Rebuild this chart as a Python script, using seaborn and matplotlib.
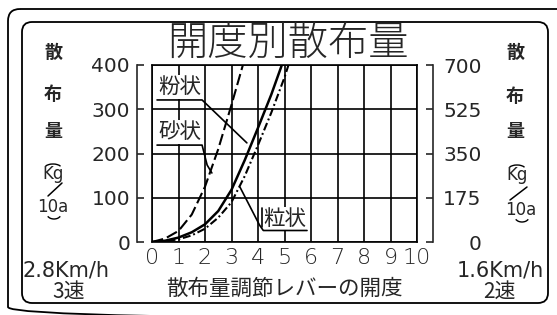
import matplotlib
matplotlib.use("Agg")
import matplotlib.pyplot as plt
from matplotlib.patches import FancyBboxPatch, Arc
import seaborn as sns

# ---------------- data ----------------
openings = [0, 1, 2, 3, 4, 5, 6, 7, 8, 9, 10]
left_ticks = [0, 100, 200, 300, 400]
right_ticks = [0, 175, 350, 525, 700]

# 粉状 (solid)
funjou_x = [0, 0.5, 1, 1.5, 2, 2.5, 3, 3.5, 4, 4.5, 4.9]
funjou_y = [0, 3, 10, 22, 40, 70, 118, 185, 258, 333, 400]
# 砂状 (dashed)
sajou_x = [0, 0.5, 1, 1.5, 2, 2.5, 3, 3.43]
sajou_y = [0, 8, 25, 62, 125, 210, 310, 400]
# 粒状 (dash-dot)
ryujou_x = [0, 0.5, 1, 1.5, 2, 2.5, 3, 3.5, 4, 4.5, 5, 5.15]
ryujou_y = [0, 2, 6, 15, 30, 55, 90, 149, 219, 292, 372, 400]

title = "開度別散布量"
xlabel = "散布量調節レバーの開度"

sns.set_style("white")
plt.rcParams['font.family'] = ['Noto Sans CJK JP', 'DejaVu Sans']
CJK = ['Noto Sans CJK JP', 'DejaVu Sans']
LAT = ['DejaVu Sans']

W, H = 557, 315
fig = plt.figure(figsize=(W / 100, H / 100), dpi=100)
fig.patch.set_facecolor('white')

# background axes in pixel coordinates for frames & side texts
bg = fig.add_axes([0, 0, 1, 1], zorder=-1)
bg.set_xlim(0, W)
bg.set_ylim(H, 0)
bg.axis('off')

bg.add_patch(FancyBboxPatch((8, 9), 580, 310, boxstyle='round,pad=0,rounding_size=12',
                            fill=False, ec='black', lw=1.3))
bg.add_patch(FancyBboxPatch((22, 22), 526, 281, boxstyle='round,pad=0,rounding_size=10',
                            fill=False, ec='black', lw=1.3))

# ---------------- main plot ----------------
ax = fig.add_axes([152 / W, 1 - 242 / H, 265 / W, 177 / H])
ax.set_facecolor('none')

lw_grid = 1.2
for s in ['top', 'bottom', 'right']:
    ax.spines[s].set_linewidth(lw_grid)
    ax.spines[s].set_color('black')
ax.spines['left'].set_position(('outward', 10.8))
ax.spines['left'].set_linewidth(lw_grid)
ax.axvline(0, color='black', lw=lw_grid, clip_on=False, zorder=1)

ax.set_xlim(0, 10)
ax.set_ylim(0, 400)
ax.set_xticks(openings)
ax.set_xticklabels([str(v) for v in openings], fontfamily=LAT, fontsize=16,
                   fontweight='light')
ax.set_yticks(left_ticks)
ax.set_yticklabels([str(v) for v in left_ticks], fontfamily=LAT, fontsize=14.5)
ax.tick_params(axis='x', length=0, pad=4)
ax.tick_params(axis='y', direction='in', length=5, width=lw_grid, pad=5)
ax.grid(True, color='black', lw=lw_grid)
ax.set_axisbelow(True)

ax2 = ax.twinx()
ax2.set_ylim(0, 700)
ax2.set_yticks(right_ticks)
ax2.set_yticklabels([str(v) for v in right_ticks])
for s in ['top', 'bottom', 'left']:
    ax2.spines[s].set_visible(False)
ax2.spines['right'].set_position(('outward', 11.5))
ax2.spines['right'].set_linewidth(lw_grid)
ax2.tick_params(axis='y', direction='in', length=5, width=lw_grid, pad=35,
                labelsize=14.5, labelfontfamily='DejaVu Sans')
for t in ax2.yaxis.get_major_ticks():
    t.label2.set_horizontalalignment('right')
ax2.grid(False)

# curves
lw_c = 1.5
sns.lineplot(x=funjou_x, y=funjou_y, ax=ax, color='black', lw=lw_c + 0.3,
             legend=False, zorder=5)
sns.lineplot(x=sajou_x, y=sajou_y, ax=ax, color='black', lw=lw_c,
             linestyle=(0, (5.5, 2.0)), legend=False, zorder=5)
sns.lineplot(x=ryujou_x, y=ryujou_y, ax=ax, color='black', lw=lw_c,
             linestyle=(0, (3.8, 1.4, 0.9, 1.4)), legend=False, zorder=5)
ax.set_xlabel('')
ax.set_ylabel('')

# labels with leader lines
box = dict(facecolor='white', edgecolor='none', pad=0.6)
ax.text(1.06, 350, '粉状', ha='center', va='center', fontsize=15.5,
        fontfamily=CJK, bbox=box, zorder=3)
ax.plot([0.19, 1.89, 3.58], [321, 321, 224], color='black', lw=1.2, zorder=4)
ax.text(1.06, 249, '砂状', ha='center', va='center', fontsize=15.5,
        fontfamily=CJK, bbox=box, zorder=3)
ax.plot([0.19, 1.89, 2.08, 2.26], [219, 219, 174, 156], color='black', lw=1.2, zorder=4)
ax.text(5.02, 52, '粒状', ha='center', va='center', fontsize=15.5,
        fontfamily=CJK, bbox=box, zorder=3)
ax.plot([3.32, 4.06, 4.2, 5.85], [124, 38, 26, 26], color='black', lw=1.2, zorder=4)
ax.plot([4.15, 4.15], [77, 34], color='black', lw=1.2, zorder=4)

# title & axis label
bg.text(288, 44, title, ha='center', va='center', fontsize=29,
        fontfamily=CJK, fontweight='light')
bg.text(284, 289, xlabel, ha='center', va='center', fontsize=15.5, fontfamily=CJK)

# side unit columns
for cx, ys in [(53, (52, 95, 131)), (515, (52, 96, 132))]:
    for ch, yy in zip('散布量', ys):
        bg.text(cx, yy, ch, ha='center', va='center', fontsize=13,
                fontfamily=CJK, fontweight='bold')

for kx, ky, tx, ty, sl in [(53, 174, 53, 207, (62, 183, 48, 196)),
                           (517, 175, 521, 210, (527, 187, 510, 200))]:
    bg.text(kx, ky, 'Kg', ha='center', va='center', fontsize=12, fontfamily=LAT)
    bg.add_patch(Arc((kx, ky - 5), 18, 10, theta1=200, theta2=340, color='black', lw=1.0))
    bg.plot([sl[0], sl[2]], [sl[1], sl[3]], color='black', lw=1.1)
    bg.text(tx, ty, '10a', ha='center', va='center', fontsize=12, fontfamily=LAT)
    bg.add_patch(Arc((tx + 1, ty + 7), 14, 10, theta1=20, theta2=160, color='black', lw=1.0))

bg.text(66, 271, '2.8Km/h', ha='center', va='center', fontsize=15, fontfamily=LAT)
bg.text(69, 292, '3速', ha='center', va='center', fontsize=15, fontfamily=CJK)
bg.text(500, 271, '1.6Km/h', ha='center', va='center', fontsize=15, fontfamily=LAT)
bg.text(499, 292, '2速', ha='center', va='center', fontsize=15, fontfamily=CJK)

fig.savefig('out.png', dpi=100, facecolor='white')
